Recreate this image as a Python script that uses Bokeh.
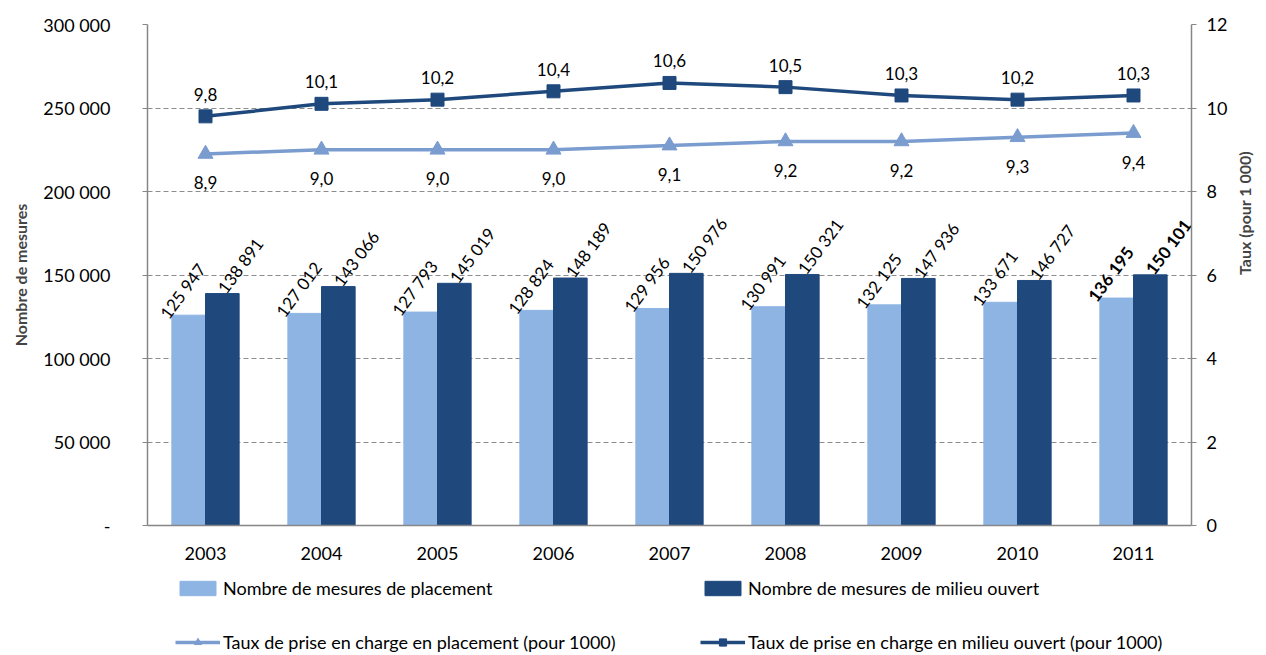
import math
from bokeh.plotting import figure
from bokeh.layouts import column
from bokeh.models import (ColumnDataSource, Range1d, LinearAxis, FixedTicker,
                          FactorRange, Legend, LegendItem)
from bokeh.transform import dodge
from bokeh.core.properties import value, field
from bokeh.embed import file_html
from bokeh.resources import INLINE

# ---------------- data ----------------
years = ["2003", "2004", "2005", "2006", "2007", "2008", "2009", "2010", "2011"]
placement = [125947, 127012, 127793, 128824, 129956, 130991, 132125, 133671, 136195]
milieu = [138891, 143066, 145019, 148189, 150976, 150321, 147936, 146727, 150101]
taux_placement = [8.9, 9.0, 9.0, 9.0, 9.1, 9.2, 9.2, 9.3, 9.4]
taux_milieu = [9.8, 10.1, 10.2, 10.4, 10.6, 10.5, 10.3, 10.2, 10.3]
label_styles = ["normal"] * 8 + ["bold"]

left_ticks = [0, 50000, 100000, 150000, 200000, 250000, 300000]
left_tick_labels = ["-", "50 000", "100 000", "150 000", "200 000", "250 000", "300 000"]
right_ticks = [0, 2, 4, 6, 8, 10, 12]

series_names = ["Nombre de mesures de placement",
                "Nombre de mesures de milieu ouvert",
                "Taux de prise en charge en placement (pour 1000)",
                "Taux de prise en charge en milieu ouvert (pour 1000)"]

# ---------------- style ----------------
FONT = "Lato"
LIGHT = "#8EB4E3"
DARK = "#1F497D"
LINE_LIGHT = "#7A9CCF"
AXIS_GREY = "#868686"
GRID_GREY = "#8C8C8C"
W = 0.29

def fmt_int(v):
    return f"{v:,}".replace(",", " ")

def fmt_dec(v):
    return f"{v:.1f}".replace(".", ",")

src = ColumnDataSource(dict(
    year=years,
    placement=placement,
    milieu=milieu,
    pl_lab=[fmt_int(v) for v in placement],
    mi_lab=[fmt_int(v) for v in milieu],
    style=label_styles,
    tp=taux_placement,
    tm=taux_milieu,
    tp_lab=[fmt_dec(v) for v in taux_placement],
    tm_lab=[fmt_dec(v) for v in taux_milieu],
))

# ================= main chart =================
p = figure(width=1266, height=565,
           x_range=FactorRange(*years), y_range=Range1d(0, 300000),
           output_backend="svg", toolbar_location=None,
           min_border_left=147, min_border_right=69,
           min_border_top=24, min_border_bottom=40)
p.outline_line_color = None
p.background_fill_color = "white"
p.border_fill_color = "white"

# grid
p.xgrid.visible = False
p.ygrid.ticker = FixedTicker(ticks=left_ticks)
p.ygrid.grid_line_color = GRID_GREY
p.ygrid.grid_line_dash = "5 3"
p.ygrid.grid_line_width = 1.2

# left axis
ya = p.yaxis[0]
ya.ticker = FixedTicker(ticks=left_ticks)
ya.major_label_overrides = {t: l for t, l in zip(left_ticks, left_tick_labels)}
ya.axis_label = "Nombre de mesures"
ya.axis_label_text_font = FONT
ya.axis_label_text_font_style = "bold"
ya.axis_label_text_font_size = "16px"
ya.axis_label_standoff = 10
ya.major_label_text_font = FONT
ya.major_label_text_font_size = "18px"
ya.major_label_text_color = "black"
ya.major_label_standoff = 32
ya.axis_line_color = AXIS_GREY
ya.axis_line_width = 1.5
ya.major_tick_line_color = AXIS_GREY
ya.major_tick_in = 0
ya.major_tick_out = 5
ya.minor_tick_line_color = None

# right axis
p.extra_y_ranges = {"rate": Range1d(0, 12)}
ra = LinearAxis(y_range_name="rate", ticker=FixedTicker(ticks=right_ticks),
                axis_label="Taux (pour 1 000)")
if hasattr(ra, "axis_label_orientation"):
    ra.axis_label_orientation = math.pi / 2
ra.axis_label_text_font = FONT
ra.axis_label_text_font_style = "bold"
ra.axis_label_text_font_size = "16px"
ra.axis_label_standoff = 14
ra.major_label_text_font = FONT
ra.major_label_text_font_size = "18px"
ra.major_label_text_color = "black"
ra.major_label_standoff = 10
ra.axis_line_color = AXIS_GREY
ra.axis_line_width = 1.5
ra.major_tick_line_color = AXIS_GREY
ra.major_tick_in = 0
ra.major_tick_out = 5
ra.minor_tick_line_color = None
p.add_layout(ra, "right")

# bottom category axis
cx = p.xaxis[0]
cx.axis_line_color = AXIS_GREY
cx.axis_line_width = 1.5
cx.major_tick_line_color = None
cx.major_label_standoff = 15
cx.major_label_text_font = FONT
cx.major_label_text_font_size = "18px"
cx.major_label_text_color = "black"

# bars
p.vbar(x=dodge("year", -W / 2, range=p.x_range), top="placement", width=W,
       fill_color=LIGHT, line_color=LIGHT, source=src)
p.vbar(x=dodge("year", W / 2, range=p.x_range), top="milieu", width=W,
       fill_color=DARK, line_color=DARK, source=src)

# bar labels (rotated)
common = dict(angle=0.93, text_align="center", text_baseline="middle",
              text_font=value(FONT), text_font_size="17px",
              text_font_style=field("style"), text_color="black", source=src)
p.text(x=dodge("year", -W / 2, range=p.x_range), y="placement", text="pl_lab",
       x_offset=-6, y_offset=-24, **common)
p.text(x=dodge("year", W / 2, range=p.x_range), y="milieu", text="mi_lab",
       x_offset=18, y_offset=-28, **common)

# rate lines
line_pl = dict(line_color=LINE_LIGHT, line_width=3.5)
mark_pl = dict(marker="triangle", size=15, fill_color=LINE_LIGHT, line_color=LINE_LIGHT)
line_mo = dict(line_color=DARK, line_width=3.5)
mark_mo = dict(marker="square", size=13, fill_color=DARK, line_color=DARK)

p.line(x="year", y="tp", y_range_name="rate", source=src, **line_pl)
p.scatter(x="year", y="tp", y_range_name="rate", source=src, **mark_pl)
p.line(x="year", y="tm", y_range_name="rate", source=src, **line_mo)
p.scatter(x="year", y="tm", y_range_name="rate", source=src, **mark_mo)

lab = dict(text_align="center", text_baseline="middle", text_font=value(FONT),
           text_font_size="17px", text_color="black", source=src, y_range_name="rate")
p.text(x="year", y="tp", text="tp_lab", y_offset=29, **lab)
p.text(x="year", y="tm", text="tm_lab", y_offset=-22, **lab)

# ================= legend strip =================
lf = figure(width=1266, height=90, output_backend="svg", toolbar_location=None,
            x_range=Range1d(0, 1), y_range=Range1d(0, 1),
            x_axis_type=None, y_axis_type=None,
            min_border=0, min_border_left=0, min_border_right=0,
            min_border_top=0, min_border_bottom=0)
lf.outline_line_color = None
lf.grid.visible = False
# one undrawable (NaN) row so legend swatches get their styles
proxy = ColumnDataSource(dict(x=[float("nan")], y=[float("nan")]))
g1 = lf.vbar(x="x", top="y", width=1, fill_color=LIGHT, line_color=LIGHT, source=proxy)
g2 = lf.vbar(x="x", top="y", width=1, fill_color=DARK, line_color=DARK, source=proxy)
g3 = lf.line(x="x", y="y", source=proxy, **line_pl)
g4 = lf.scatter(x="x", y="y", source=proxy, **mark_pl)
g5 = lf.line(x="x", y="y", source=proxy, **line_mo)
g6 = lf.scatter(x="x", y="y", source=proxy, **mark_mo)

def make_legend(items, loc):
    return Legend(items=items, location=loc, orientation="horizontal",
                  glyph_width=45, glyph_height=18, label_standoff=3,
                  label_width=447, spacing=30, padding=0, margin=0,
                  border_line_color=None, background_fill_alpha=0,
                  label_text_font=FONT, label_text_font_size="18px",
                  label_text_color="black")

lg1 = make_legend([LegendItem(label=series_names[0], renderers=[g1]),
                   LegendItem(label=series_names[1], renderers=[g2])], (28, 56))
lg2 = make_legend([LegendItem(label=series_names[2], renderers=[g3, g4]),
                   LegendItem(label=series_names[3], renderers=[g5, g6])], (28, 2))
lf.add_layout(lg1, "center")
lf.add_layout(lg2, "center")

layout = column(p, lf, spacing=0)
open("out.html", "w").write(file_html(layout, INLINE))
